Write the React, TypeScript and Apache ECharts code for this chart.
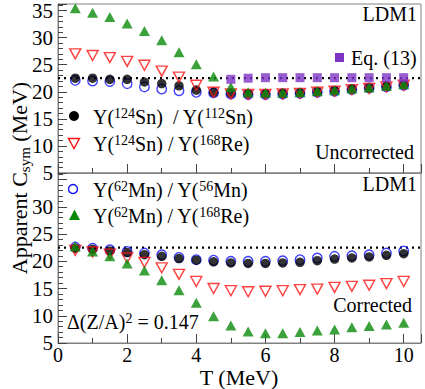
import React, { useEffect, useRef } from "react";
import * as echarts from "echarts";

const T = [0.5, 1, 1.5, 2, 2.5, 3, 3.5, 4, 4.5, 5, 5.5, 6, 6.5, 7, 7.5, 8, 8.5, 9, 9.5, 10];
const T_EQ13 = [5, 5.5, 6, 6.5, 7, 7.5, 8, 8.5, 9, 9.5, 10];

// Uncorrected (top panel)
const topSn112 = [22.5, 22.5, 22.3, 22.3, 21.8, 21.5, 21.1, 20.3, 19.9, 19.7, 19.6, 19.6, 19.7, 19.8, 20.0, 20.2, 20.5, 20.7, 21.0, 21.3];
const topSnRe = [27.0, 26.7, 26.3, 25.6, 24.9, 23.8, 22.7, 21.2, 19.9, 19.6, 19.5, 19.5, 19.6, 19.7, 19.9, 20.1, 20.4, 20.6, 20.9, 21.2];
const topMn56 = [22.1, 22.0, 21.9, 21.5, 20.9, 20.5, 20.2, 19.9, 19.8, 19.6, 19.5, 19.5, 19.6, 19.7, 19.9, 20.1, 20.4, 20.7, 20.9, 21.2];
const topMnRe = [35.4, 34.6, 33.8, 32.6, 31.2, 29.5, 27.3, 25.1, 22.8, 20.9, 19.9, 19.8, 19.8, 19.9, 20.1, 20.3, 20.6, 20.8, 21.1, 21.4];
const eq13 = [22.3, 22.5, 22.6, 22.6, 22.6, 22.6, 22.6, 22.6, 22.6, 22.6, 22.6];

// Corrected (bottom panel)
const botSn112 = [22.4, 22.2, 21.9, 21.6, 21.2, 20.9, 20.5, 20.2, 19.9, 19.7, 19.6, 19.6, 19.7, 19.8, 20.1, 20.4, 20.6, 20.8, 21.1, 21.4];
const botSnRe = [22.0, 21.7, 21.3, 20.6, 19.8, 18.8, 17.6, 16.3, 15.0, 14.6, 14.4, 14.5, 14.6, 14.8, 14.9, 15.2, 15.4, 15.6, 15.9, 16.3];
const botMn56 = [22.6, 22.4, 22.1, 21.8, 21.5, 21.2, 20.7, 20.3, 20.2, 20.0, 20.0, 20.0, 20.1, 20.3, 20.6, 20.9, 21.0, 21.2, 21.5, 21.9];
const botMnRe = [22.7, 21.8, 20.9, 19.6, 18.3, 16.5, 14.7, 12.4, 9.9, 8.2, 7.1, 6.8, 6.8, 7.0, 7.3, 7.5, 7.9, 8.1, 8.4, 8.7];

const refLine = 22.5;
const X_MIN = 0;
const X_MAX = 10.5;
const Y_MIN = 5;
const Y_MAX = 36.2;

const FONT = "Liberation Serif";
const GREEN = "#0a8a0a";
const RED = "#ff1010";
const BLUE = "#1010ff";
const PURPLE = "#7d33c4";
const AXIS = "#808080";

const pairs = (xs: number[], ys: number[]) => xs.map((x, i) => [x, ys[i]]);

export default function App() {
  const ref = useRef<HTMLDivElement>(null);
  useEffect(() => {
    document.body.style.margin = "0";
    const chart = echarts.init(ref.current!, null, { renderer: "svg" });

    const grids = [
      { left: 58, top: 4, width: 363, height: 169 },
      { left: 58, top: 173, width: 363, height: 170 },
    ].map((g) => ({ ...g, show: true, borderColor: AXIS, borderWidth: 1, backgroundColor: "transparent" }));

    const xAxisBase = (gi: number, showLabels: boolean) => ({
      type: "value",
      gridIndex: gi,
      min: X_MIN,
      max: X_MAX,
      interval: 2,
      axisLine: { show: true, lineStyle: { color: AXIS, width: 1 } },
      axisTick: { show: true, inside: true, length: 9, lineStyle: { color: "#444" } },
      minorTick: { show: true, splitNumber: 2, length: 5, lineStyle: { color: "#444" } },
      splitLine: { show: false },
      axisLabel: {
        show: showLabels,
        fontFamily: FONT,
        fontSize: 20,
        lineHeight: 20,
        color: "#000",
        margin: 2,
        formatter: (v: number) => (v % 2 === 0 ? String(v) : ""),
      },
    });

    const yAxisBase = (gi: number, hide35: boolean) => ({
      type: "value",
      gridIndex: gi,
      min: Y_MIN,
      max: Y_MAX,
      interval: 5,
      axisLine: { show: true, lineStyle: { color: AXIS, width: 1 } },
      axisTick: { show: true, inside: true, length: 9, lineStyle: { color: "#444" } },
      minorTick: { show: true, splitNumber: 5, length: 5, lineStyle: { color: "#444" } },
      splitLine: { show: false },
      axisLabel: {
        fontFamily: FONT,
        fontSize: 21,
        color: "#000",
        margin: 5,
        formatter: (v: number) => (v % 5 === 0 && !(hide35 && v === 35) ? String(v) : ""),
      },
    });

    const openStyle = (c: string) => ({ color: "rgba(255,255,255,0)", borderColor: c, borderWidth: 1.4 });

    const panelSeries = (gi: number, sn112: number[], snRe: number[], mn56: number[], mnRe: number[]) => [
      {
        type: "line",
        xAxisIndex: gi,
        yAxisIndex: gi,
        data: [[X_MIN, refLine], [X_MAX, refLine]],
        symbol: "none",
        lineStyle: { color: "#000", width: 2.2, type: [2, 4] },
        z: 1,
      },
      {
        type: "scatter", xAxisIndex: gi, yAxisIndex: gi, data: pairs(T, mn56),
        symbol: "circle", symbolSize: 9.5, itemStyle: openStyle(BLUE), z: 2,
      },
      {
        type: "scatter", xAxisIndex: gi, yAxisIndex: gi, data: pairs(T, sn112),
        symbol: "circle", symbolSize: 9.5, itemStyle: { color: "#000" }, z: 3,
      },
      {
        type: "scatter", xAxisIndex: gi, yAxisIndex: gi, data: pairs(T, snRe),
        symbol: "triangle", symbolRotate: 180, symbolSize: [11, 10], itemStyle: openStyle(RED), z: 4,
      },
      {
        type: "scatter", xAxisIndex: gi, yAxisIndex: gi, data: pairs(T, mnRe),
        symbol: "triangle", symbolSize: [11, 10], itemStyle: { color: GREEN }, z: 5,
      },
    ];

    const txt = (x: number, y: number, text: string, align = "left", extra: any = {}) => ({
      type: "text",
      x,
      y,
      z: 10,
      style: {
        text,
        fontFamily: FONT,
        fontSize: 20,
        fill: "#000",
        align,
        verticalAlign: "middle",
        ...extra,
      },
    });

    const rich = {
      n: { fontFamily: FONT, fontSize: 20, color: "#000", lineHeight: 22 },
      s: { fontFamily: FONT, fontSize: 14, color: "#000", verticalAlign: "top", lineHeight: 22 },
    };

    const option: any = {
      animation: false,
      textStyle: { fontFamily: FONT },
      grid: grids,
      xAxis: [xAxisBase(0, false), xAxisBase(1, true)],
      yAxis: [yAxisBase(0, false), yAxisBase(1, true)],
      series: [
        ...panelSeries(0, topSn112, topSnRe, topMn56, topMnRe),
        {
          type: "scatter", xAxisIndex: 0, yAxisIndex: 0, data: pairs(T_EQ13, eq13),
          symbol: "rect", symbolSize: 9, itemStyle: { color: PURPLE }, z: 6,
        },
        ...panelSeries(1, botSn112, botSnRe, botMn56, botMnRe),
      ],
      graphic: [
        // top panel legend
        { type: "circle", z: 10, shape: { cx: 74, cy: 116, r: 5 }, style: { fill: "#000" } },
        txt(93, 117, "", "left", {
          text: "{n|Y(}{s|124}{n|Sn)  / Y(}{s|112}{n|Sn)}",
          rich,
        }),
        {
          type: "polygon", z: 10,
          shape: { points: [[68.5, 138.5], [79.5, 138.5], [74, 148.5]] },
          style: { fill: "rgba(255,255,255,0)", stroke: RED, lineWidth: 1.4 },
        },
        txt(93, 144, "", "left", {
          text: "{n|Y(}{s|124}{n|Sn) / Y(}{s|168}{n|Re)}",
          rich,
        }),
        txt(417, 14, "LDM1", "right"),
        { type: "rect", z: 10, shape: { x: 335, y: 53, width: 9, height: 9 }, style: { fill: PURPLE } },
        txt(351, 58, "Eq. (13)"),
        txt(414, 152, "Uncorrected", "right"),
        // bottom panel legend
        { type: "circle", z: 10, shape: { cx: 73, cy: 189, r: 4.5 }, style: { fill: "rgba(255,255,255,0)", stroke: BLUE, lineWidth: 1.4 } },
        txt(93, 190, "", "left", {
          text: "{n|Y(}{s|62}{n|Mn) / Y(}{s|56}{n|Mn)}",
          rich,
        }),
        {
          type: "polygon", z: 10,
          shape: { points: [[74.5, 209.5], [80, 220], [69, 220]] },
          style: { fill: GREEN },
        },
        txt(93, 216, "", "left", {
          text: "{n|Y(}{s|62}{n|Mn) / Y(}{s|168}{n|Re)}",
          rich,
        }),
        txt(417, 184, "LDM1", "right"),
        txt(412, 305, "Corrected", "right"),
        txt(67, 322, "", "left", {
          text: "{n|Δ(Z/A)}{s|2}{n| = 0.147}",
          rich,
        }),
        // axis titles
        txt(239, 377, "T (MeV)", "center", { fontSize: 22 }),
        {
          type: "text",
          x: 19,
          y: 178,
          rotation: Math.PI / 2,
          z: 10,
          style: {
            text: "{a|Apparent C}{b|sym}{a| (MeV)}",
            align: "center",
            verticalAlign: "middle",
            rich: {
              a: { fontFamily: FONT, fontSize: 22, color: "#000", lineHeight: 26 },
              b: { fontFamily: FONT, fontSize: 15, color: "#000", verticalAlign: "bottom", lineHeight: 26 },
            },
          },
        },
      ],
    };

    chart.setOption(option);
    return () => chart.dispose();
  }, []);

  return <div ref={ref} style={{ width: 425, height: 389 }} />;
}
